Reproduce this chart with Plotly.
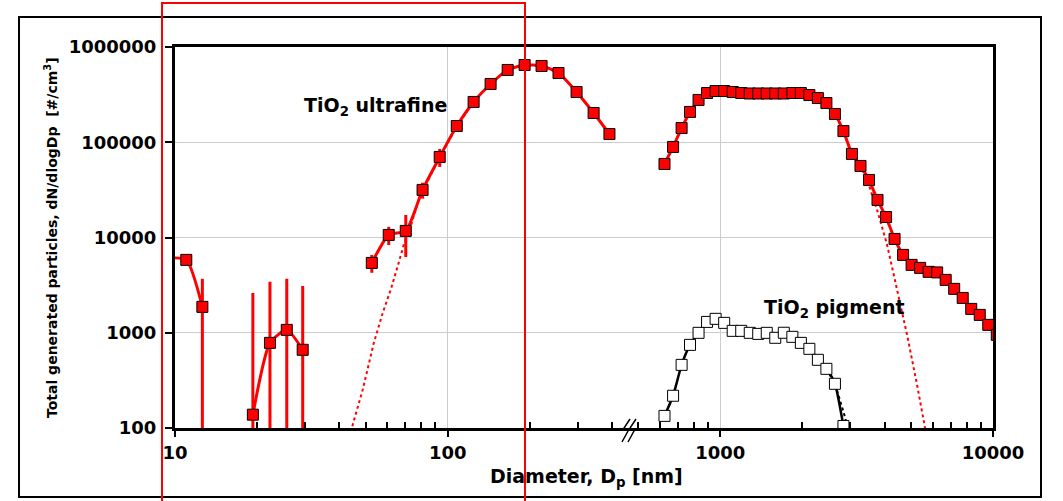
import plotly.graph_objects as go

# ---------------- data ----------------
# ultrafine mode (SMPS), None = gap in the line
uf_d = [9.3, 11.0, 12.6, None, 19.3, 22.3, 25.7, 29.4, None,
        52.7, 60.8, 70.2, 80.9, 93.5, 108, 124.5, 143.7, 166, 191.5,
        221, 255, 297, 343, 392]
uf_n = [6100, 5820, 1870, None, 138, 783, 1072, 662, None,
        5410, 10640, 11730, 31580, 70100, 148000, 265000, 409000, 574000, 647000,
        632000, 533000, 337000, 203000, 122000]
uf_err = [0, 600, 1810, 0, 2480, 2640, 2610, 2440, 0,
          1150, 2300, 5500, 6000, 15000, 0, 0, 0, 0, 0,
          0, 0, 0, 0, 0]

# coarse mode (APS) of the ultrafine powder
co_d = [624, 671, 721, 774, 832, 894, 961, 1033, 1110, 1193,
        1282, 1377, 1480, 1590, 1709, 1837, 1974, 2121, 2279, 2449,
        2632, 2828, 3039, 3266, 3510, 3771, 4053, 4355, 4680, 5029,
        5404, 5807, 6240, 6706, 7206, 7743, 8321, 8942, 9609, 10326]
co_n = [59200, 89300, 141000, 208000, 278000, 329000, 345000, 345000, 337000, 329000,
        325000, 325000, 325000, 325000, 325000, 329000, 329000, 313000, 291000, 258000,
        198000, 131000, 75400, 56400, 40200, 24800, 16400, 9660, 6570, 5160,
        4800, 4360, 4300, 3590, 2890, 2320, 1780, 1540, 1210, 950]

# TiO2 pigment
pg_d = [624, 671, 721, 774, 832, 894, 961, 1033, 1110, 1193,
        1282, 1377, 1480, 1590, 1709, 1837, 1974, 2121, 2279, 2449,
        2632, 2828, 3039]
pg_n = [134, 218, 460, 746, 998, 1300, 1400, 1270, 1047, 1047,
        998, 973, 998, 885, 1000, 906, 783, 678, 520, 418,
        291, 105, 34]

# fitted curves (dotted)
fit_uf_d = [43.0, 44.5, 48.8, 53.6, 57.8, 61.8, 66.1, 69.0, 73.1, 77.6, 80.9, 93.5, 108, 124.5]
fit_uf_n = [80, 100, 252, 783, 1618, 2820, 5410, 8360, 12900, 23100, 31000, 69000, 147000, 264000]
fit_co_d = [624, 671, 721, 774, 832, 894, 961, 1033, 1110, 1193, 1282, 1377, 1480, 1590,
            1709, 1837, 1974, 2121, 2279, 2449, 2632, 2828, 3039, 3266, 3455, 3758,
            4090, 4449, 4840, 5267, 5636, 5875]
fit_co_n = [59000, 89000, 140000, 207000, 277000, 328000, 344000, 344000, 336000, 328000,
            324000, 324000, 324000, 324000, 324000, 328000, 328000, 312000, 290000, 257000,
            197000, 130000, 75000, 56000, 40200, 19500, 8360, 2820, 951, 284, 96, 52]
fit_pg_d = [2449, 2632, 2773, 2870, 2969]
fit_pg_n = [418, 291, 179, 128, 83]

x_tickvals = [10, 100, 1000, 10000]
x_ticktext = ["10", "100", "1000", "10000"]
x_minor = [20, 30, 40, 50, 60, 70, 80, 90, 200, 300, 400, 500, 600, 700, 800, 900,
           2000, 3000, 4000, 5000, 6000, 7000, 8000, 9000]
y_tickvals = [100, 1000, 10000, 100000, 1000000]
y_ticktext = ["100", "1000", "10000", "100000", "1000000"]

# ---------------- figure ----------------
W, H = 1063, 501
L, R, T, B = 175, 70, 47, 73
PW, PH = W - L - R, H - T - B


def px(x):
    return (x - L) / PW


def py(y):
    return (H - B - y) / PH


FONT = "DejaVu Sans"
RED = "#ff0000"

fig = go.Figure()

# dotted fits
fig.add_trace(go.Scatter(x=fit_uf_d, y=fit_uf_n, mode="lines",
                         line=dict(color=RED, width=2, dash="dot"), hoverinfo="skip"))
fig.add_trace(go.Scatter(x=fit_co_d, y=fit_co_n, mode="lines",
                         line=dict(color=RED, width=2, dash="dot"), hoverinfo="skip"))
fig.add_trace(go.Scatter(x=fit_pg_d, y=fit_pg_n, mode="lines",
                         line=dict(color="black", width=2, dash="dot"), hoverinfo="skip"))

# pigment
fig.add_trace(go.Scatter(x=pg_d, y=pg_n, mode="lines+markers",
                         line=dict(color="black", width=2.5, shape="spline", smoothing=0.6),
                         marker=dict(symbol="square", size=11, color="white",
                                     line=dict(color="black", width=1))))

# ultrafine (SMPS)
fig.add_trace(go.Scatter(x=uf_d, y=uf_n, mode="lines+markers", connectgaps=False,
                         line=dict(color=RED, width=3, shape="spline", smoothing=0.6),
                         marker=dict(symbol="square", size=11, color=RED,
                                     line=dict(color="black", width=1)),
                         error_y=dict(type="data", array=uf_err, visible=True,
                                      color=RED, thickness=3, width=0)))

# ultrafine (APS)
fig.add_trace(go.Scatter(x=co_d, y=co_n, mode="lines+markers",
                         line=dict(color=RED, width=3, shape="spline", smoothing=0.6),
                         marker=dict(symbol="square", size=11, color=RED,
                                     line=dict(color="black", width=1))))

tickfont = dict(family=FONT, size=18, color="black", weight="bold")

fig.update_layout(
    width=W, height=H, autosize=False,
    margin=dict(l=L, r=R, t=T, b=B, pad=0),
    paper_bgcolor="white", plot_bgcolor="white",
    showlegend=False,
    xaxis=dict(type="log", range=[1, 4], tickvals=x_tickvals, ticktext=x_ticktext,
               ticks="outside", ticklen=6, tickwidth=2, tickcolor="black",
               showline=True, linecolor="black", linewidth=3, mirror=True,
               showgrid=True, gridcolor="#cccccc", gridwidth=1, zeroline=False,
               tickfont=tickfont, ticklabelstandoff=0,
               minor=dict(tickvals=x_minor, ticks="inside", ticklen=6, tickwidth=2,
                          tickcolor="black", showgrid=False)),
    yaxis=dict(type="log", range=[2, 6], tickvals=y_tickvals, ticktext=y_ticktext,
               ticks="outside", ticklen=7, tickwidth=2, tickcolor="black",
               showline=True, linecolor="black", linewidth=3, mirror=True,
               showgrid=True, gridcolor="#cccccc", gridwidth=1, zeroline=False,
               tickfont=tickfont, ticklabelstandoff=5),
)

# axis titles and labels
fig.add_annotation(xref="paper", yref="paper", x=px(51), y=py(238),
                   xanchor="center", yanchor="middle",
                   text="Total generated particles, dN/dlogDp  [#/cm<sup>3</sup>]",
                   textangle=-90, showarrow=False,
                   font=dict(family=FONT, size=14, color="black", weight="bold"))
fig.add_annotation(xref="paper", yref="paper", x=px(586), y=py(478),
                   xanchor="center", yanchor="middle",
                   text="Diameter, D<sub>p</sub> [nm]", showarrow=False,
                   font=dict(family=FONT, size=19, color="black", weight="bold"))
fig.add_annotation(xref="paper", yref="paper", x=px(375), y=py(106),
                   xanchor="center", yanchor="middle",
                   text="TiO<sub>2</sub> ultrafine", showarrow=False,
                   font=dict(family=FONT, size=19, color="black", weight="bold"))
fig.add_annotation(xref="paper", yref="paper", x=px(834), y=py(308),
                   xanchor="center", yanchor="middle",
                   text="TiO<sub>2</sub> pigment", showarrow=False,
                   font=dict(family=FONT, size=19, color="black", weight="bold"))

# outer frame
fig.add_shape(type="rect", xref="paper", yref="paper",
              x0=px(19), x1=px(1041), y0=py(497), y1=py(17),
              line=dict(color="black", width=2), fillcolor="rgba(0,0,0,0)")
# red highlight rectangle
fig.add_shape(type="rect", xref="paper", yref="paper",
              x0=px(162), x1=px(525), y0=py(503), y1=py(3),
              line=dict(color=RED, width=2), fillcolor="rgba(0,0,0,0)")
# axis-break mark
for cx in (626, 632):
    path = "M {} {} L {} {} L {} {} L {} {}".format(
        px(cx + 4), py(419), px(cx - 2), py(428), px(cx + 2), py(431), px(cx - 4), py(442))
    fig.add_shape(type="path", xref="paper", yref="paper", path=path,
                  line=dict(color="black", width=1.5))

fig.write_html("out.html", config={"displayModeBar": False},
               post_script="document.body.style.margin='0';")
